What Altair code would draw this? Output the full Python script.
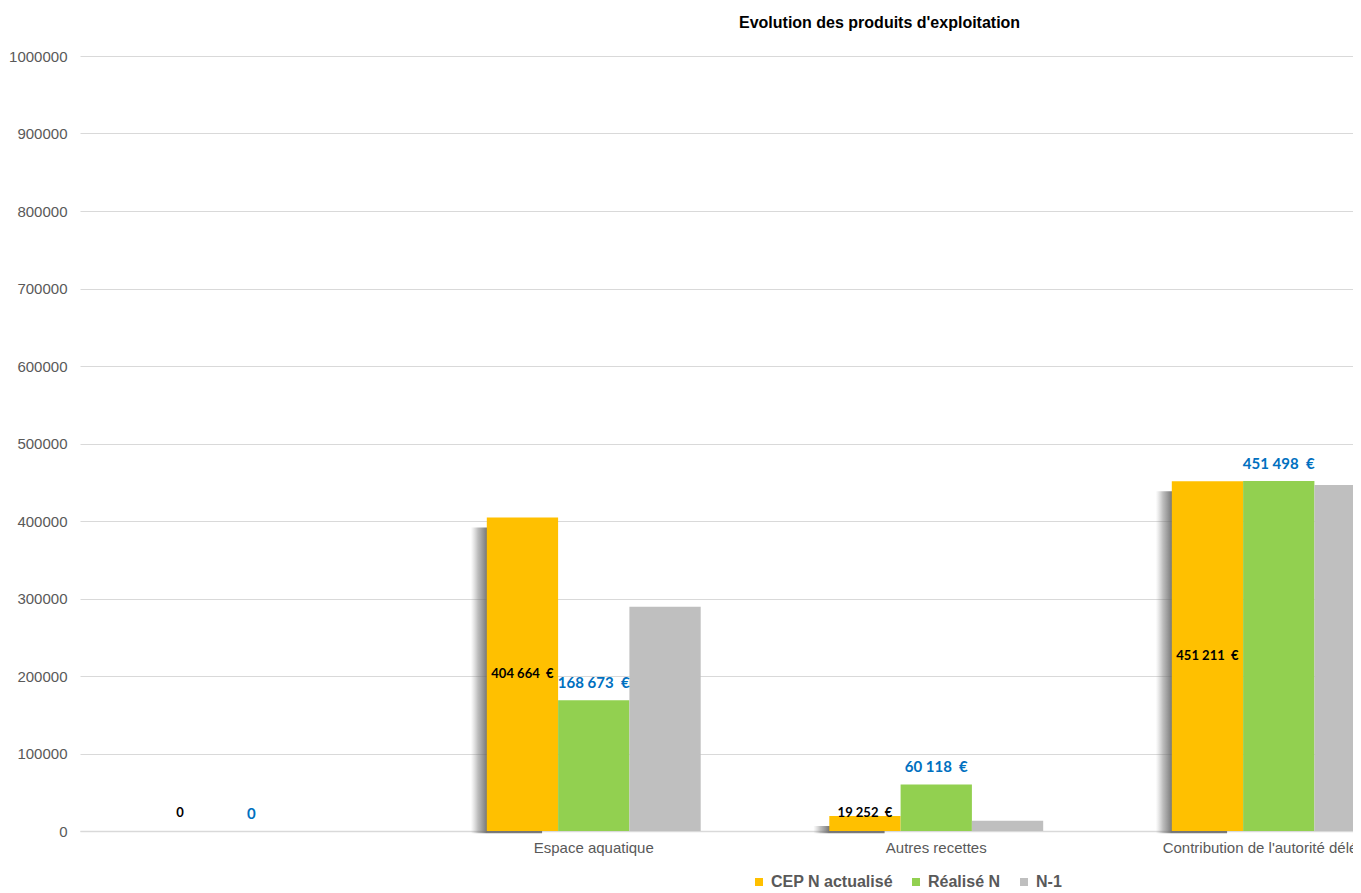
import altair as alt
import pandas as pd

categories = [" ", "Espace aquatique", "Autres recettes", "Contribution de l'autorité délégante"]
series = ["CEP N actualisé", "Réalisé N", "N-1"]
cep = [0, 404664, 19252, 451211]
realise = [0, 168673, 60118, 451498]
n1 = [0, 289400, 13300, 446500]
colors = ["#FFC000", "#92D050", "#BFBFBF"]
y_ticks = [0, 100000, 200000, 300000, 400000, 500000, 600000, 700000, 800000, 900000, 1000000]


def fmt(v):
    if v == 0:
        return "0"
    return f"{v:,}".replace(",", " ") + "\u00a0 €"


rows = []
for i, c in enumerate(categories):
    for s, vals in zip(series, [cep, realise, n1]):
        rows.append({"cat": c, "series": s, "value": vals[i], "label": fmt(vals[i])})
df = pd.DataFrame(rows)

PLOT_W = 1273
PLOT_H = 775
BAND_RANGE = 1370
PI = 0.3755

x_enc = alt.X(
    "cat:N",
    sort=categories,
    scale=alt.Scale(domain=categories, range=[0, BAND_RANGE], paddingInner=PI, paddingOuter=PI / 2),
    axis=alt.Axis(
        title=None, labelAngle=0, ticks=False, domain=True, domainColor="#D9D9D9",
        domainWidth=1.5, labelFont="Liberation Sans", labelFontSize=15,
        labelColor="#595959", labelPadding=9, labelLimit=1000, grid=False,
    ),
)
xo_enc = alt.XOffset("series:N", sort=series,
                     scale=alt.Scale(domain=series, paddingInner=0, paddingOuter=0))
y_axis = alt.Axis(
    values=y_ticks, format="d", title=None, ticks=False, domain=False, grid=True,
    gridColor="#D9D9D9", gridWidth=1.2, labelFont="Liberation Sans", labelFontSize=15,
    labelColor="#595959", labelPadding=13,
)
y_scale = alt.Scale(domain=[0, 1000000], nice=False)

base = alt.Chart(df)

# soft drop shadow on the left of the first series' bars
shadow_grad = alt.Gradient(
    gradient="linear",
    stops=[
        alt.GradientStop(color="rgba(140,140,140,0.0)", offset=0),
        alt.GradientStop(color="rgba(110,110,110,0.45)", offset=0.1),
        alt.GradientStop(color="rgba(100,100,100,0.85)", offset=0.22),
        alt.GradientStop(color="rgba(100,100,100,0.85)", offset=1),
    ],
    x1=0, x2=1, y1=0, y2=0,
)
shadow = base.transform_filter(
    (alt.datum.series == series[0]) & (alt.datum.value > 0)
).mark_bar(color=shadow_grad).encode(
    x=alt.X("cat:N", sort=categories,
            scale=alt.Scale(domain=categories, range=[-16, BAND_RANGE - 16],
                            paddingInner=PI, paddingOuter=PI / 2),
            axis=None),
    xOffset=alt.XOffset("series:N", sort=series,
                        scale=alt.Scale(domain=series, paddingInner=0, paddingOuter=0)),
    y=alt.Y("value:Q", scale=alt.Scale(domain=[0, 1000000], range=[PLOT_H + 10, 10], nice=False),
            axis=None),
    y2=alt.datum(10000),
)

bars = base.mark_bar().encode(
    x=x_enc,
    xOffset=xo_enc,
    y=alt.Y("value:Q", scale=y_scale, axis=y_axis),
    color=alt.Color(
        "series:N",
        sort=series,
        scale=alt.Scale(domain=series, range=colors),
        legend=alt.Legend(
            title=None, orient="none", legendX=671, legendY=818, direction="horizontal",
            symbolType="square", symbolSize=64, symbolStrokeWidth=0,
            labelFont="Liberation Sans", labelFontSize=16, labelFontWeight="bold",
            labelColor="#595959", columnPadding=15, labelOffset=4,
        ),
    ),
)

cep_labels = base.transform_filter(alt.datum.series == series[0]).transform_calculate(
    ly="max(datum.value / 2, 23000)"
).mark_text(font="Lato", fontWeight="bold", fontSize=13, color="black", baseline="middle").encode(
    x=x_enc, xOffset=xo_enc, y=alt.Y("ly:Q", scale=y_scale, axis=y_axis), text="label:N"
)

real_labels = base.transform_filter(alt.datum.series == series[1]).mark_text(
    font="Lato", fontWeight="bold", fontSize=15, color="#0070C0", baseline="middle", dy=-17
).encode(
    x=x_enc, xOffset=xo_enc, y=alt.Y("value:Q", scale=y_scale, axis=y_axis), text="label:N"
)

main = alt.layer(bars, cep_labels, real_labels)

chart = alt.layer(shadow, main).resolve_scale(
    x="independent", y="independent", xOffset="independent"
).properties(
    width=PLOT_W,
    height=PLOT_H,
    autosize=alt.AutoSizeParams(type="none"),
    padding={"left": 72, "top": 48, "right": 0, "bottom": 59},
    title=alt.TitleParams(
        "Evolution des produits d'exploitation", anchor="start", frame="group", dx=659, offset=18,
        font="Liberation Sans", fontSize=16, fontWeight="bold", color="black",
    ),
).configure_view(stroke=None)

chart.save("out.html", embed_options={"renderer": "svg", "actions": False})
